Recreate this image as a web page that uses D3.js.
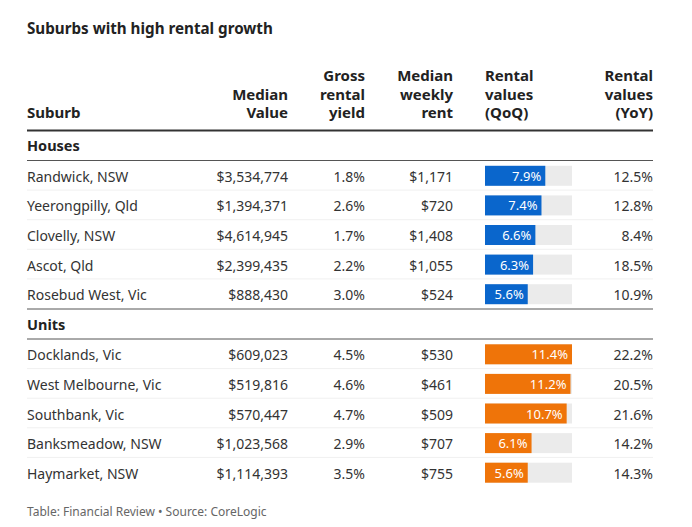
<!DOCTYPE html>
<html><head><meta charset="utf-8">
<script src="https://cdn.jsdelivr.net/npm/d3@7"></script>
<style>
body{margin:0;background:#fff;}
svg text{font-family:"Noto Sans",sans-serif;}
</style></head>
<body><svg id="c" width="692" height="527"></svg>
<script>
const groups = ["Houses","Units"];
const suburbs = ["Randwick, NSW","Yeerongpilly, Qld","Clovelly, NSW","Ascot, Qld","Rosebud West, Vic","Docklands, Vic","West Melbourne, Vic","Southbank, Vic","Banksmeadow, NSW","Haymarket, NSW"];
const rowGroup = ["Houses","Houses","Houses","Houses","Houses","Units","Units","Units","Units","Units"];
const medianValue = [3534774,1394371,4614945,2399435,888430,609023,519816,570447,1023568,1114393];
const grossYield = [1.8,2.6,1.7,2.2,3.0,4.5,4.6,4.7,2.9,3.5];
const weeklyRent = [1171,720,1408,1055,524,530,461,509,707,755];
const qoq = [7.9,7.4,6.6,6.3,5.6,11.4,11.2,10.7,6.1,5.6];
const yoy = [12.5,12.8,8.4,18.5,10.9,22.2,20.5,21.6,14.2,14.3];
const headers = [["Suburb"],["Median","Value"],["Gross","rental","yield"],["Median","weekly","rent"],["Rental","values","(QoQ)"],["Rental","values","(YoY)"]];
const groupColors = {Houses:"#0a66cc", Units:"#ef7409"};

const svg = d3.select("#c");
const L = 27, R = 653;
const colX = [L, 288, 365, 453, 485, R];
const colAnchor = ["start","end","end","end","start","end"];

svg.append("text").attr("x",L).attr("y",34).attr("font-size",15.2).attr("font-weight",700).attr("fill","#222").text("Suburbs with high rental growth");

// headers (bottom aligned)
headers.forEach((h,i)=>{
  const n=h.length;
  h.forEach((line,j)=>{
    svg.append("text").attr("x",colX[i]).attr("y",118-(n-1-j)*18.5)
      .attr("text-anchor",colAnchor[i]).attr("font-size",15).attr("font-weight",700).attr("fill","#222").text(line);
  });
});
svg.append("line").attr("x1",L).attr("x2",R).attr("y1",130.5).attr("y2",130.5).attr("stroke","#333").attr("stroke-width",2);

const fmtMoney = d3.format("$,");
const fmtPct = d=>d3.format(".1f")(d)+"%";

const x = d3.scaleLinear().domain([0,d3.max(qoq)]).range([colX[4], colX[4]+87]);

// layout of groups
const groupTop = {Houses:131, Units:309.5};
const rowH = 29.6;
groups.forEach(g=>{
  const top = groupTop[g];
  svg.append("text").attr("x",L).attr("y",top+20).attr("font-size",14.5).attr("font-weight",700).attr("fill","#222").text(g);
  svg.append("line").attr("x1",L).attr("x2",R).attr("y1",top+29.5).attr("y2",top+29.5).attr("stroke","#555").attr("stroke-width",1);
  const idx = d3.range(suburbs.length).filter(i=>rowGroup[i]===g);
  const y = d3.scaleBand().domain(idx).range([top+30, top+30+rowH*idx.length]);
  idx.forEach((i,k)=>{
    const yc = y(i)+y.bandwidth()/2;
    if(k<idx.length-1){
      svg.append("line").attr("x1",L).attr("x2",R).attr("y1",y(i)+y.bandwidth()-0.5).attr("y2",y(i)+y.bandwidth()-0.5).attr("stroke","#f0f0f0").attr("stroke-width",1);
    }
    const vals=[suburbs[i],fmtMoney(medianValue[i]),fmtPct(grossYield[i]),fmtMoney(weeklyRent[i])];
    vals.forEach((v,c)=>{
      svg.append("text").attr("x",colX[c]).attr("y",yc+6).attr("text-anchor",colAnchor[c]).attr("font-size",14).attr("fill","#333").text(v);
    });
    svg.append("rect").attr("x",x(0)).attr("y",yc-10).attr("width",x(d3.max(qoq))-x(0)).attr("height",20).attr("fill","#ebebeb");
    svg.append("rect").attr("x",x(0)).attr("y",yc-10).attr("width",x(qoq[i])-x(0)).attr("height",20).attr("fill",groupColors[g]);
    svg.append("text").attr("x",x(qoq[i])-4).attr("y",yc+5).attr("text-anchor","end").attr("font-size",13).attr("fill","#fff").text(fmtPct(qoq[i]));
    svg.append("text").attr("x",colX[5]).attr("y",yc+6).attr("text-anchor","end").attr("font-size",14).attr("fill","#333").text(fmtPct(yoy[i]));
  });
  if(g==="Houses"){
    svg.append("line").attr("x1",L).attr("x2",R).attr("y1",top+30+rowH*idx.length).attr("y2",top+30+rowH*idx.length).attr("stroke","#555").attr("stroke-width",1);
  }
});

svg.append("text").attr("x",L).attr("y",516).attr("font-size",12).attr("fill","#666").text("Table: Financial Review \u2022 Source: CoreLogic");
</script></body></html>
